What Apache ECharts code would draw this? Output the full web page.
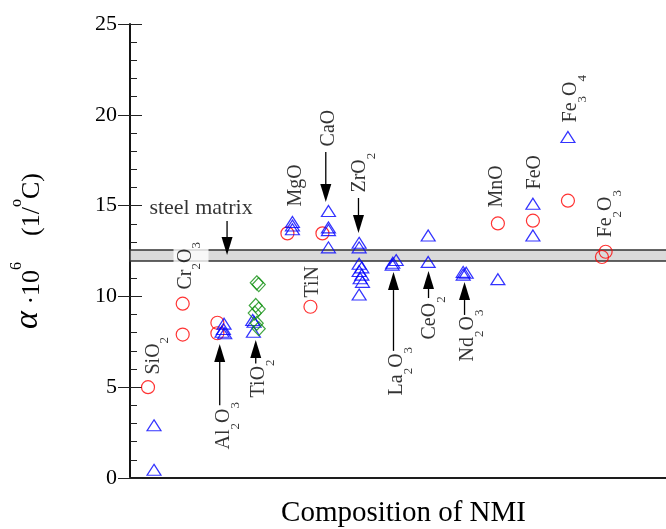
<!DOCTYPE html>
<html>
<head>
<meta charset="utf-8">
<script src="https://cdn.jsdelivr.net/npm/echarts@6/dist/echarts.min.js"></script>
<style>
  html, body { margin: 0; padding: 0; background: #fff; }
  #chart { width: 666px; height: 529px; }
</style>
</head>
<body>
<div id="chart"></div>
<script>
const serif = "'Liberation Serif', 'Times New Roman', serif";

// red circles [x, alpha]
const circleData = [
  [0.54, 5.0], [1.58, 9.6], [1.58, 7.9], [2.62, 8.55], [2.62, 7.97],
  [4.72, 13.47], [5.41, 9.43], [5.77, 13.47], [11.03, 14.02], [12.08, 14.17],
  [13.13, 15.27], [14.26, 12.46], [14.15, 12.17]
];
// blue triangles
const triangleData = [
  [0.72, 2.9], [0.72, 0.45],
  [2.82, 8.5], [2.8, 8.2], [2.76, 8.05], [2.84, 7.97],
  [3.68, 8.7], [3.72, 8.6], [3.7, 8.05],
  [4.87, 14.1], [4.87, 13.9], [4.87, 13.7],
  [5.95, 14.7], [5.95, 13.8], [5.95, 13.65], [5.95, 12.7],
  [6.87, 12.95], [6.87, 12.7], [6.87, 11.8], [6.95, 11.6], [6.87, 11.4],
  [6.95, 11.2], [6.9, 11.0], [6.97, 10.8], [6.87, 10.1],
  [7.98, 12.0], [7.88, 11.85], [7.86, 11.75],
  [8.94, 13.35], [8.94, 11.9],
  [9.99, 11.35], [10.08, 11.3], [9.99, 11.2],
  [11.03, 10.95],
  [12.08, 15.1], [12.08, 13.35],
  [13.13, 18.78]
];
// green diamonds (TiO2)
const diamondData = [
  [3.8, 10.75], [3.86, 10.65], [3.77, 9.5], [3.86, 9.3],
  [3.74, 9.08], [3.8, 8.52], [3.86, 8.22]
];

// steel matrix band
const bandLow = 11.95;
const bandHigh = 12.55;

// compound labels
const labelText = [
  '{m|SiO}{s|2}', '{m|Cr}{s|2}{m|O}{s|3}', '{m|Al}{s|2}{m|O}{s|3}', '{m|TiO}{s|2}',
  '{m|MgO}', '{m|TiN}', '{m|CaO}', '{m|ZrO}{s|2}', '{m|La}{s|2}{m|O}{s|3}',
  '{m|CeO}{s|2}', '{m|Nd}{s|2}{m|O}{s|3}', '{m|MnO}', '{m|FeO}',
  '{m|Fe}{s|3}{m|O}{s|4}', '{m|Fe}{s|2}{m|O}{s|3}'
];
const labelX = [0.42, 1.32, 2.53, 3.58, 4.67, 5.2, 5.67, 6.61, 7.71, 8.7, 9.84, 10.7, 11.84, 12.94, 13.99];
const labelY = [5.67, 10.24, 1.54, 4.41, 14.92, 9.91, 18.23, 15.69, 4.52, 7.6, 6.39, 14.87, 15.86, 19.55, 13.22];

// arrows: x, from, to (tip)
const arrowX = [2.91, 5.87, 6.85, 2.69, 3.77, 7.9, 8.95, 10.03];
const arrowFrom = [14.15, 17.95, 15.42, 4.0, 6.3, 7.0, 9.91, 8.98];
const arrowTo = [12.28, 15.2, 13.49, 7.38, 7.6, 11.34, 11.4, 10.79];

const chart = echarts.init(document.getElementById('chart'));

const hollow = (color, symbol, size) => ({
  type: 'scatter',
  symbol: symbol,
  symbolSize: size,
  z: 3,
  silent: true,
  itemStyle: { color: 'rgba(0,0,0,0)', borderColor: color, borderWidth: 1.2 }
});

const labelItems = labelText.map((t, i) => {
  const item = { value: [labelX[i], labelY[i]] };
  if (i === 1) {
    item.label = { backgroundColor: '#fff', padding: [2, 2, 5, 2] };
  }
  return item;
});

const options = {
  animation: false,
  grid: { left: 130, width: 547, top: 24, bottom: 51, outerBoundsMode: 'none', containLabel: false },
  xAxis: [
    {
      type: 'value', min: 0, max: 16.4, position: 'bottom',
      axisLine: { lineStyle: { color: '#777', width: 2 } },
      axisTick: { show: false }, axisLabel: { show: false }, splitLine: { show: false },
      name: 'Composition of NMI', nameLocation: 'middle', nameGap: 21,
      nameTextStyle: { fontSize: 29, fontFamily: serif, color: '#000' }
    },
    {
      type: 'value', min: 0, max: 16.4, position: 'top',
      axisLine: { lineStyle: { color: '#000', width: 1.5 } },
      axisTick: { show: false }, axisLabel: { show: false }, splitLine: { show: false }
    }
  ],
  yAxis: [
    {
      type: 'value', min: 0, max: 25, interval: 5, position: 'left',
      axisLine: { show: true, lineStyle: { color: '#555', width: 2 } },
      axisTick: { show: true, inside: true, length: 12, lineStyle: { color: '#222' } },
      minorTick: { show: true, splitNumber: 5, length: 7, lineStyle: { color: '#222' } },
      splitLine: { show: false },
      axisLabel: { fontSize: 22, fontFamily: serif, color: '#000', margin: 13 },
      name: '{a|α}{m| ·10}{p|6}{m|    (1/}{p|o}{m|C)}',
      nameLocation: 'middle', nameRotate: 90, nameGap: 85,
      nameTextStyle: {
        color: '#000', fontFamily: serif,
        rich: {
          a: { fontSize: 34, fontStyle: 'italic', fontFamily: serif, verticalAlign: 'bottom' },
          m: { fontSize: 26, fontFamily: serif, verticalAlign: 'bottom' },
          p: { fontSize: 16, fontFamily: serif, lineHeight: 36, verticalAlign: 'top' }
        }
      }
    },
    {
      type: 'value', min: 0, max: 25, interval: 5, position: 'right',
      axisLine: { show: true, lineStyle: { color: '#000', width: 1.5 } },
      axisTick: { show: true, inside: true, length: 12, lineStyle: { color: '#222' } },
      axisLabel: { show: false }, splitLine: { show: false }
    }
  ],
  series: [
    {
      type: 'scatter', data: [], z: 1, silent: true,
      markArea: {
        silent: true,
        itemStyle: { color: '#dadada', borderColor: '#333', borderWidth: 1.5 },
        data: [[{ yAxis: bandLow }, { yAxis: bandHigh }]]
      }
    },
    Object.assign(hollow('#ff0000', 'circle', 13), { data: circleData }),
    Object.assign(hollow('#0000ff', 'triangle', [14, 11]), { data: triangleData }),
    Object.assign(hollow('#109010', 'diamond', [13, 14]), { data: diamondData }),
    {
      type: 'custom', z: 4, silent: true,
      data: arrowX.map((x, i) => [x, arrowFrom[i], arrowTo[i]]),
      encode: { x: 0, y: [1, 2] },
      renderItem: (params, api) => {
        const p0 = api.coord([api.value(0), api.value(1)]);
        const p1 = api.coord([api.value(0), api.value(2)]);
        const dir = p1[1] > p0[1] ? 1 : -1;
        const headLen = 18;
        const headW = 5.5;
        const base = p1[1] - dir * headLen;
        return {
          type: 'group',
          children: [
            { type: 'line', shape: { x1: p0[0], y1: p0[1], x2: p1[0], y2: base }, style: { stroke: '#000', lineWidth: 1.3 } },
            { type: 'polygon', shape: { points: [[p1[0], p1[1]], [p1[0] - headW, base], [p1[0] + headW, base]] }, style: { fill: '#000' } }
          ]
        };
      }
    },
    {
      type: 'scatter', z: 5, silent: true,
      symbol: 'circle', symbolSize: 1,
      itemStyle: { color: 'rgba(0,0,0,0)' },
      data: labelItems,
      label: {
        show: true,
        position: [0, 0],
        rotate: 90,
        align: 'left',
        verticalAlign: 'top',
        formatter: (p) => labelText[p.dataIndex],
        rich: {
          m: { fontSize: 20, fontFamily: serif, color: '#000', verticalAlign: 'top' },
          s: { fontSize: 13, fontFamily: serif, color: '#000', lineHeight: 28, verticalAlign: 'bottom' }
        }
      }
    },
    {
      type: 'scatter', z: 5, silent: true,
      symbol: 'circle', symbolSize: 1,
      itemStyle: { color: 'rgba(0,0,0,0)' },
      data: [[2.13, 14.87]],
      label: {
        show: true, position: 'inside',
        formatter: 'steel matrix',
        fontSize: 22, fontFamily: serif, color: '#000'
      }
    }
  ]
};

chart.setOption(options);
</script>
</body>
</html>
